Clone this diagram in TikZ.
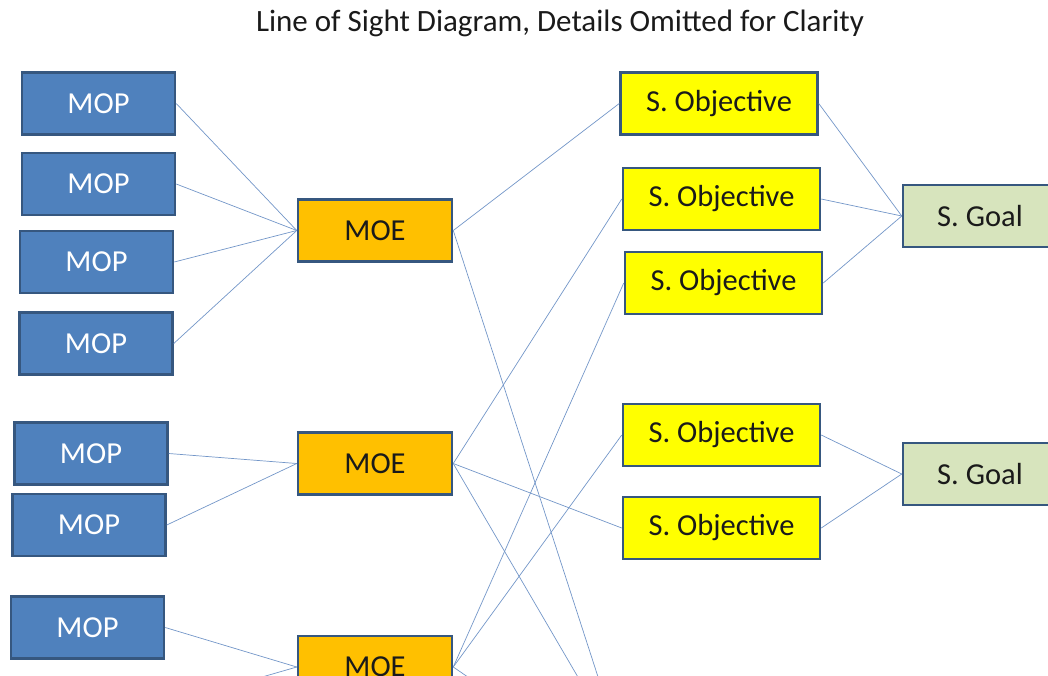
\documentclass[tikz,border=0pt]{standalone}
\usepackage{fontspec}
\setmainfont{Carlito}
\definecolor{mopblue}{HTML}{4F81BD}
\definecolor{edgeblue}{HTML}{36577F}
\definecolor{moeorange}{HTML}{FFC000}
\definecolor{objyellow}{HTML}{FFFF00}
\definecolor{goalgreen}{HTML}{D7E4BD}
\definecolor{linkblue}{HTML}{7396C8}
\definecolor{txtdark}{HTML}{1A1A1A}

\begin{document}
\begin{tikzpicture}[
  x=1pt, y=-1pt,
  box/.style={draw=edgeblue, line width=2.5pt, minimum height=62pt, inner sep=0pt,
              font=\fontsize{30.5}{34}\selectfont, text=txtdark},
  mopbox/.style={box, fill=mopblue, minimum width=153pt, text=white},
  moebox/.style={box, fill=moeorange, minimum width=154pt},
  objbox/.style={box, fill=objyellow, minimum width=197pt},
  goalbox/.style={box, fill=goalgreen, minimum width=154pt},
  link/.style={draw=linkblue, line width=0.7pt},
]

% Frame
\useasboundingbox (0,0) rectangle (1048,675);
\clip (0,0) rectangle (1048,675);

% Title
\node[font=\fontsize{31}{34}\selectfont, text=txtdark] (title) at (560,23)
  {Line of Sight Diagram, Details Omitted for Clarity};

% === Column 1: MOPs ===
\node[mopbox] (mop1) at (98.5,103.5) {MOP};
\node[mopbox] (mop2) at (98.5,184) {MOP};
\node[mopbox] (mop3) at (96.5,262) {MOP};
\node[mopbox] (mop4) at (96,343.5) {MOP};
\node[mopbox] (mop5) at (91,453.5) {MOP};
\node[mopbox] (mop6) at (89,525) {MOP};
\node[mopbox] (mop7) at (87.5,627.5) {MOP};

% === Column 2: MOEs ===
\node[moebox] (moe1) at (375,230.5) {MOE};
\node[moebox] (moe2) at (375,463.5) {MOE};
\node[moebox] (moe3) at (375,667) {MOE};

% === Column 3: S. Objectives ===
\node[objbox] (obj1) at (719,103.5) {S. Objective};
\node[objbox] (obj2) at (721.5,199) {S. Objective};
\node[objbox] (obj3) at (723.5,283) {S. Objective};
\node[objbox] (obj4) at (721.5,435) {S. Objective};
\node[objbox] (obj5) at (721.5,528) {S. Objective};

% === Column 4: S. Goals ===
\node[goalbox] (goal1) at (980,216) {S. Goal};
\node[goalbox] (goal2) at (980,474) {S. Goal};

% Ends of links that run below the frame
\coordinate (off1) at (612,720);
\coordinate (off2) at (603,720);
\coordinate (off3) at (560,740);
\coordinate (off4) at (165,705);

% MOP -> MOE
\foreach \m in {1,2,3,4}
  \draw[link] (mop\m.east) -- (moe1.west);
\draw[link] (mop5.east) -- (moe2.west);
\draw[link] (mop6.east) -- (moe2.west);
\draw[link] (mop7.east) -- (moe3.west);
\draw[link] (off4) -- (moe3.west);

% MOE -> S. Objective
\draw[link] (moe1.east) -- (obj1.west);
\draw[link] (moe1.east) -- (off1);
\draw[link] (moe2.east) -- (obj2.west);
\draw[link] (moe2.east) -- (obj5.west);
\draw[link] (moe2.east) -- (off2);
\draw[link] (moe3.east) -- (obj3.west);
\draw[link] (moe3.east) -- (obj4.west);
\draw[link] (moe3.east) -- (off3);

% S. Objective -> S. Goal
\foreach \o in {1,2,3}
  \draw[link] (obj\o.east) -- (goal1.west);
\draw[link] (obj4.east) -- (goal2.west);
\draw[link] (obj5.east) -- (goal2.west);

\end{tikzpicture}
\end{document}
